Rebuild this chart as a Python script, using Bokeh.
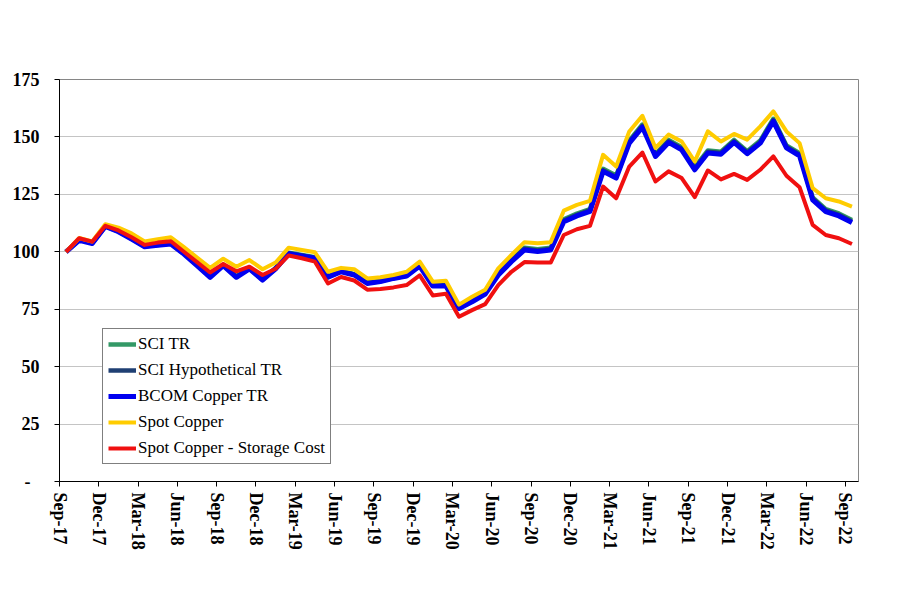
import pandas as pd
from bokeh.plotting import figure
from bokeh.models import FixedTicker, Legend, LegendItem, ColumnDataSource, Range1d
from bokeh.embed import file_html
from bokeh.resources import INLINE

# ---- data ----
months = [d.strftime("%b-%y") for d in pd.date_range("2017-09-01", "2022-09-01", freq="MS")]

tick_labels = ["Sep-17", "Dec-17", "Mar-18", "Jun-18", "Sep-18", "Dec-18", "Mar-19",
               "Jun-19", "Sep-19", "Dec-19", "Mar-20", "Jun-20", "Sep-20", "Dec-20",
               "Mar-21", "Jun-21", "Sep-21", "Dec-21", "Mar-22", "Jun-22", "Sep-22"]
y_ticks = [0, 25, 50, 75, 100, 125, 150, 175]
y_tick_labels = ["-\u00a0\u00a0", "25", "50", "75", "100", "125", "150", "175"]

series_names = ["SCI TR", "SCI Hypothetical TR", "BCOM Copper TR", "Spot Copper",
                "Spot Copper - Storage Cost"]

sci_tr = [100, 105.4, 104, 111.4, 109.1, 105.9, 102.6, 103.2, 103.8, 99.4,
          94.4, 89.3, 94.4, 89.3, 93, 88.1, 93, 99.6, 98.6, 97.6,
          89.3, 91.7, 90.3, 86.6, 87.4, 88.8, 89.8, 94.2, 85.5, 85.5,
          75.7, 78.7, 82.2, 90.8, 96.7, 101.8, 101.1, 101.8, 114.1, 116.6,
          118.6, 136.1, 133.2, 148.4, 155.4, 142.6, 148.7, 145.5, 136.8, 144.1,
          143.6, 148.7, 143.8, 148.4, 157.9, 146.3, 142.9, 123.7, 118.6, 116.7,
          113.8]

sci_hyp_tr = [100, 105.2, 103.8, 111.2, 108.9, 105.7, 102.4, 103, 103.6, 99.2,
              94.2, 89.1, 94.2, 89.1, 92.8, 87.9, 92.8, 99.4, 98.4, 97.4,
              89.1, 91.5, 90.1, 86.4, 87.2, 88.6, 89.6, 94, 85.3, 85.3,
              75.5, 78.5, 81.9, 90.4, 96.2, 101.3, 100.6, 101.3, 113.6, 116.1,
              118.1, 135.5, 132.6, 147.8, 154.8, 142, 148.1, 144.9, 136.2, 143.5,
              143, 148.1, 143.2, 147.8, 157.3, 145.7, 142.3, 123.1, 118, 116.1,
              113.2]

bcom_tr = [100, 105, 103.6, 111, 108.7, 105.5, 102.2, 102.8, 103.4, 99,
           94, 88.9, 94, 88.9, 92.6, 87.7, 92.6, 99.2, 98.2, 97.2,
           88.9, 91.3, 89.9, 86.2, 87, 88.4, 89.4, 93.8, 85.1, 85.1,
           75.3, 78.2, 81.6, 89.9, 95.7, 100.8, 100.1, 100.8, 113.1, 115.6,
           117.6, 135, 132.1, 147.3, 154.3, 141.5, 147.6, 144.4, 135.7, 143,
           142.5, 147.6, 142.7, 147.3, 156.8, 145.2, 141.8, 122.6, 117.5, 115.6,
           112.7]

spot = [100, 106, 104.5, 112, 110.5, 108, 104.5, 105.5, 106.3, 102,
        97.5, 93, 97, 93.5, 96.4, 92.4, 95.3, 101.8, 100.8, 99.8,
        91.3, 93, 92.4, 88.4, 88.9, 89.9, 91.3, 95.7, 87, 87.4,
        77, 80.4, 83.5, 92.8, 98.6, 104.2, 103.7, 104.2, 117.9, 120.4,
        122.2, 142.2, 137.1, 152.4, 159.2, 145.2, 151, 148, 139.3, 152.4,
        148, 151.3, 148.8, 154.6, 161.1, 152.4, 147.3, 127.7, 123.3, 121.9,
        119.7]

spot_storage = [100, 105.9, 104.4, 111.3, 109.3, 106.3, 103, 104, 104.6, 100,
                95.5, 91, 94.7, 91.5, 93.5, 89.9, 92.6, 98.4, 97.2, 95.7,
                86.2, 89, 87.5, 83.5, 83.8, 84.5, 85.5, 89.7, 81, 81.7,
                71.7, 74.6, 77.2, 85.5, 91.3, 95.5, 95.3, 95.3, 107.3, 109.8,
                111.3, 128.4, 123.3, 137.1, 143.2, 130.6, 135, 132.1, 123.8, 135.4,
                131.5, 133.9, 131.3, 135.7, 141.5, 133.1, 128.1, 111.7, 107.3, 105.9,
                103.4]

colors = ["#339966", "#1F3F73", "#0000F0", "#FFCC00", "#F01010"]
widths = [4.5, 4.5, 5, 4, 4]

# ---- figure ----
FONT = "Liberation Serif"
x = list(range(len(months)))
source = ColumnDataSource(dict(x=x, months=months, sci_tr=sci_tr, sci_hyp_tr=sci_hyp_tr,
                               bcom_tr=bcom_tr, spot=spot, spot_storage=spot_storage))

p = figure(width=888, height=598, output_backend="svg", toolbar_location=None,
           x_range=Range1d(-0.5, len(months) - 0.5), y_range=Range1d(0, 175),
           min_border_left=59, min_border_right=30, min_border_top=79, min_border_bottom=117)
p.background_fill_color = "white"
p.border_fill_color = "white"
p.outline_line_color = "#868686"
p.outline_line_width = 1

cols = ["sci_tr", "sci_hyp_tr", "bcom_tr", "spot", "spot_storage"]
renderers = []
for col, c, w in zip(cols, colors, widths):
    r = p.line("x", col, source=source, line_color=c, line_width=w, line_join="round")
    renderers.append(r)

# x axis
tick_pos = [months.index(l) - 0.5 for l in tick_labels]
p.xaxis.ticker = FixedTicker(ticks=tick_pos, minor_ticks=[])
p.xaxis.major_label_overrides = {pos: lab for pos, lab in zip(tick_pos, tick_labels)}
p.xaxis.major_label_orientation = "vertical"
p.xaxis.major_label_text_font = FONT
p.xaxis.major_label_text_font_style = "bold"
p.xaxis.major_label_text_font_size = "18px"
p.xaxis.major_label_text_color = "black"
p.xaxis.major_label_standoff = 6
p.xaxis.major_tick_in = 0
p.xaxis.major_tick_out = 5
p.xaxis.minor_tick_line_color = None
p.xaxis.axis_line_color = "black"
p.xaxis.major_tick_line_color = "black"
p.xgrid.visible = False

# y axis
p.yaxis.ticker = FixedTicker(ticks=y_ticks, minor_ticks=[])
p.yaxis.major_label_overrides = {t: lab for t, lab in zip(y_ticks, y_tick_labels)}
p.yaxis.major_label_text_font = FONT
p.yaxis.major_label_text_font_style = "bold"
p.yaxis.major_label_text_font_size = "18px"
p.yaxis.major_label_text_color = "black"
p.yaxis.major_label_standoff = 15
p.yaxis.major_tick_in = 0
p.yaxis.major_tick_out = 5
p.yaxis.minor_tick_line_color = None
p.yaxis.axis_line_color = "black"
p.yaxis.major_tick_line_color = "black"
p.ygrid.ticker = FixedTicker(ticks=y_ticks)
p.ygrid.grid_line_color = "#c4c4c4"
p.ygrid.grid_line_width = 1

# legend
items = [LegendItem(label=n, renderers=[r]) for n, r in zip(series_names, renderers)]
legend = Legend(items=items, location=(43, 17))
legend.label_text_font = FONT
legend.label_text_font_size = "17px"
legend.label_text_color = "black"
legend.border_line_color = "black"
legend.border_line_width = 1
legend.background_fill_color = "white"
legend.background_fill_alpha = 1
legend.padding = 5
legend.margin = 0
legend.spacing = 6
legend.glyph_height = 20
legend.label_height = 20
legend.glyph_width = 28
legend.label_standoff = 2
p.add_layout(legend)

open("out.html", "w").write(file_html(p, INLINE))
